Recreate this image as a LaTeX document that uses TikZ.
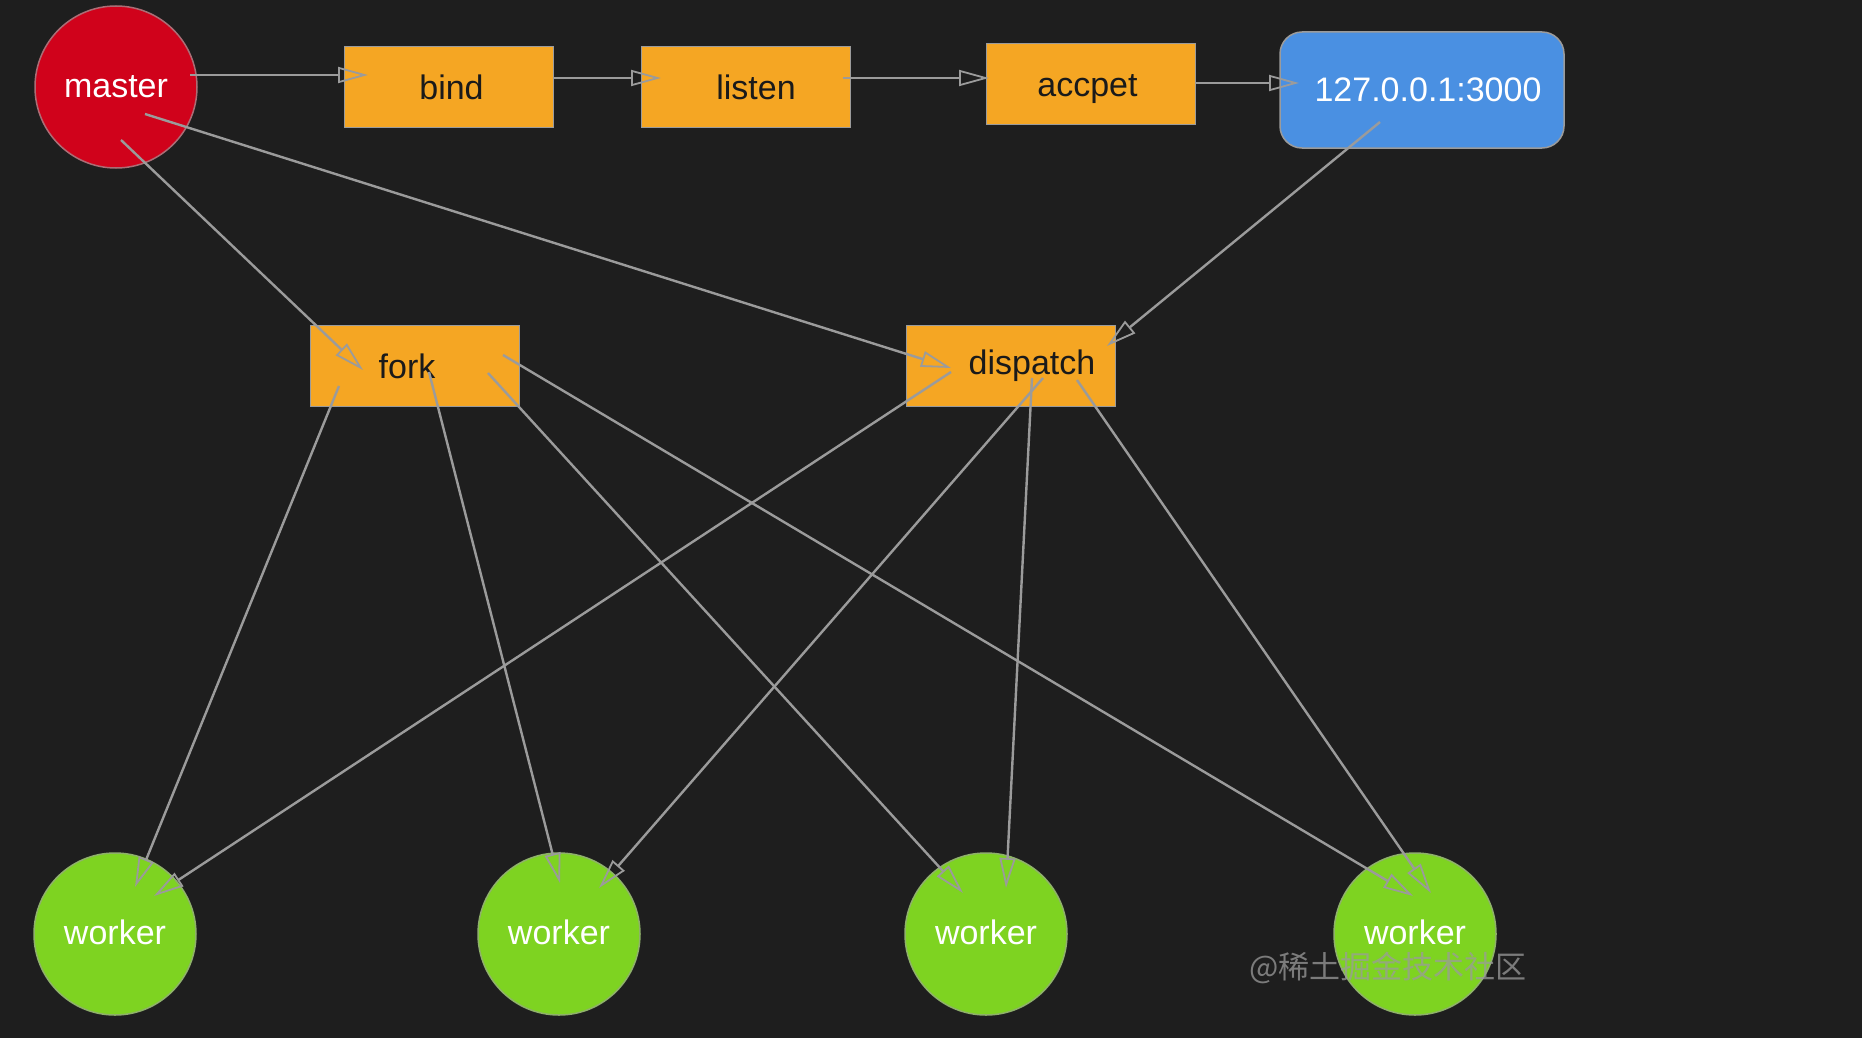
\documentclass[tikz,border=0pt]{standalone}
\usepackage{fontspec}
\setmainfont{Liberation Sans}
\newfontfamily\cjk{Noto Sans CJK SC}
\usetikzlibrary{arrows.meta,calc}
\definecolor{bg}{HTML}{1E1E1E}
\definecolor{mred}{HTML}{D0021B}
\definecolor{morange}{HTML}{F5A623}
\definecolor{mblue}{HTML}{4A90E2}
\definecolor{mgreen}{HTML}{7ED321}
\definecolor{lgrey}{HTML}{9B9B9B}
\definecolor{dtext}{HTML}{1A1A1A}
\begin{document}
\begin{tikzpicture}[x=1pt,y=-1pt,
  lbl/.style={font=\fontsize{34}{40}\selectfont, inner sep=0pt},
  stepbox/.style={lbl, rectangle, fill=morange, draw=lgrey, line width=1.5pt,
    minimum width=209pt, minimum height=81pt, text=dtext},
  ipbox/.style={lbl, rectangle, rounded corners=22pt, fill=mblue, draw=lgrey, line width=1.5pt,
    minimum width=284pt, minimum height=116pt, text=white},
  mastercirc/.style={lbl, circle, fill=mred, draw=lgrey!70!mred, line width=1.5pt,
    minimum size=162pt, text=white},
  workercirc/.style={lbl, circle, fill=mgreen, draw=lgrey!60!mgreen, line width=1.5pt,
    minimum size=162pt, text=white},
  edge/.style={draw=lgrey, line width=2.4pt, -{Triangle[open,length=30pt,width=16pt,line width=1.8pt]}},
]
\fill[bg] (0,0) rectangle (1862,1038);
\useasboundingbox (0,0) rectangle (1862,1038);

% nodes
\node[mastercirc] (master) at (116,87) {master};
\node[stepbox] (bind) at (449,87) {\hspace*{5pt}bind};
\node[stepbox] (listen) at (746,87) {\hspace*{20pt}listen};
\node[stepbox] (accpet) at (1091,84) {\raisebox{-5pt}[\height][\depth]{accpet}\hspace*{7pt}};
\node[ipbox] (ip) at (1422,90) {\hspace*{12pt}127.0.0.1:3000};
\node[stepbox] (fork) at (415,366) {fork\hspace*{16pt}};
\node[stepbox] (dispatch) at (1011,366) {\hspace*{42pt}dispatch};
\node[workercirc] (w1) at (115,934) {\raisebox{2pt}[\height][\depth]{worker}};
\node[workercirc] (w2) at (559,934) {\raisebox{2pt}[\height][\depth]{worker}};
\node[workercirc] (w3) at (986,934) {\raisebox{2pt}[\height][\depth]{worker}};
\node[workercirc] (w4) at (1415,934) {\raisebox{2pt}[\height][\depth]{worker}};

% connectors
\draw[edge] ([shift={(74,-12)}]master.center) -- ([shift={(-81,-12)}]bind.center);
\draw[edge] ([shift={(104,-9)}]bind.center) -- ([shift={(-85,-9)}]listen.center);
\draw[edge] ([shift={(97,-9)}]listen.center) -- ([shift={(-102,-6)}]accpet.center);
\draw[edge] ([shift={(105,-1)}]accpet.center) -- ([shift={(-123,-7)}]ip.center);
\draw[edge] ([shift={(5,53)}]master.center) -- ([shift={(-52,4)}]fork.center);
\draw[edge] ([shift={(29,27)}]master.center) -- ([shift={(-60,2)}]dispatch.center);
\draw[edge] ([shift={(-42,32)}]ip.center) -- ([shift={(96,-20)}]dispatch.center);
\draw[edge] ([shift={(-76,20)}]fork.center) -- ([shift={(20,-47)}]w1.center);
\draw[edge] ([shift={(-60,6)}]dispatch.center) -- ([shift={(39,-38)}]w1.center);
\draw[edge] ([shift={(14,6)}]fork.center) -- ([shift={(1,-51)}]w2.center);
\draw[edge] ([shift={(32,12)}]dispatch.center) -- ([shift={(40,-46)}]w2.center);
\draw[edge] ([shift={(73,7)}]fork.center) -- ([shift={(-23,-41)}]w3.center);
\draw[edge] ([shift={(21,12)}]dispatch.center) -- ([shift={(20,-46)}]w3.center);
\draw[edge] ([shift={(88,-11)}]fork.center) -- ([shift={(-2,-38)}]w4.center);
\draw[edge] ([shift={(66,14)}]dispatch.center) -- ([shift={(16,-41)}]w4.center);

% watermark
\node[text=lgrey, opacity=0.75, inner sep=0pt] (wm) at (1388,968) {\cjk\fontsize{31}{36}\selectfont @稀土掘金技术社区};
\end{tikzpicture}
\end{document}
